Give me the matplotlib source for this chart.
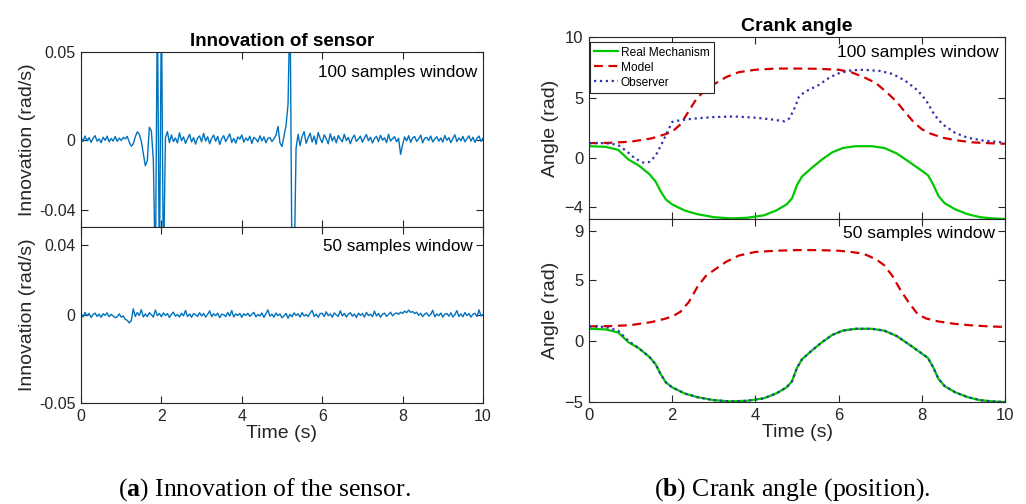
import numpy as np
import matplotlib
matplotlib.use("Agg")
import matplotlib.pyplot as plt

plt.rcParams['font.family'] = ['Liberation Sans', 'DejaVu Sans']
plt.rcParams['mathtext.fontset'] = 'custom'
plt.rcParams['mathtext.rm'] = 'Liberation Serif'
plt.rcParams['mathtext.bf'] = 'Liberation Serif:bold'

# ---- data: innovation of the sensor (values in 1e-3 rad/s, one sample every 0.05 s)
t_innov = np.arange(201) * 0.05
innov_100 = [
    1.5, -1.2, 2.0, -0.8, 1.1, -1.6, 0.7, 2.2, -1.0, 0.4, -1.8, 1.3, -0.5, 1.9, -1.4, 0.6, -0.9, 1.7, -1.1, 0.8,
    -0.6, 1.2, 0.3, 1.8, -1.5, -3.8, -2.5, 1.5, 4.4, 3.0, -1.0, -8.0, -15.0, -12.0, 7.0, 5.0, -12.0, -80, 80, -80,
    80, -80, 1.0, 4.5, -1.8, 2.6, -1.2, 0.9, -2.0, 3.8, -0.7, 1.5, -2.2, 0.5, 2.9, -1.4, 1.1, -2.6, 0.8, 2.0,
    -1.3, 3.5, -0.9, 1.6, -2.4, 0.7, 2.5, -1.0, 1.8, -2.8, 0.4, 2.2, -1.2, 1.0, 3.2, -1.7, 0.6, -2.1, 1.4, 0.2,
    2.6, -1.5, 0.9, -0.6, 1.9, -2.3, 1.2, 0.3, -1.4, 2.1, -0.8, 1.5, -1.9, 0.7, 1.1, -1.2, 0.5, 2.4, 7.5, -2.0,
    -4.0, 2.0, 8.0, 20.0, 80, -80, -80, -5.0, 3.0, -3.5, 1.8, 4.5, -2.2, 0.9, 3.6, -1.5, 2.0, -2.7, 4.0, 0.5,
    -1.8, 2.7, 0.4, -2.5, 3.3, -0.8, 1.6, -1.9, 2.3, 0.2, -1.3, 3.0, -0.6, 1.2, -2.4, 0.8, 2.5, -1.1, 0.3, 1.9,
    -1.6, 0.9, 2.8, -0.7, 1.3, -2.0, 0.6, 1.8, -1.2, 2.4, -0.4, 1.0, -1.8, 3.0, -0.9, 0.5, 1.6, -1.3, 0.7, -8.5,
    -3.0, 1.5, -0.8, 2.2, -1.6, 0.9, 1.7, -1.1, 0.4, 2.5, -1.9, 0.8, 1.2, -0.6, 2.0, -1.4, 0.3, 1.6, -1.0, 0.9,
    -1.5, 2.3, -0.5, 1.1, -1.8, 0.6, 2.7, -1.2, 0.9, -0.7, 1.8, -1.3, 0.4, 2.1, -0.9, 1.3, -1.6, 0.7, 2.0, -1.1,
    0.8]
innov_50 = [
    0.8, -1.2, 1.5, -0.4, 0.9, -1.4, 0.3, 1.1, -0.8, 0.5, -1.3, 0.7, -0.2, 1.2, -1.0, 0.4, -0.6, -1.5, -1.1, 0.6,
    -1.2, -0.5, -2.5, -3.0, -4.5, -3.2, 3.5, -0.8, 1.4, -0.3, 3.0, -1.1, 0.6, -0.9, 1.3, 0.2, -1.2, 2.8, -0.4, 0.9,
    -1.0, 1.2, -0.3, 0.8, -1.4, 0.5, 1.6, -0.7, 0.3, -1.1, 1.0, -0.5, 2.6, -0.9, 0.6, -1.3, 0.8, 0.1, -0.8, 1.3,
    -0.6, 0.9, -1.2, 0.4, 2.3, -1.0, 0.7, -0.4, 1.1, -1.5, 0.5, 0.2, -0.9, 1.4, -0.6, 2.5, -1.1, 0.6, -0.3, 0.9,
    -1.3, 0.7, -0.2, 1.0, -0.8, 0.4, 1.5, -1.0, 0.3, -0.6, 1.2, -1.4, 0.8, 2.9, -0.7, 0.5, -1.2, 1.1, -0.4, 0.6,
    -1.6, -0.5, 0.9, -1.8, 0.4, -1.0, 1.2, -0.3, 0.7, -1.2, 1.4, -0.6, 0.3, -0.9, 1.1, 2.6, -0.8, 0.5, -1.3, 0.8,
    1.0, -0.9, 1.8, -0.4, 0.6, -1.3, 1.2, 0.1, -0.8, 2.4, -0.5, 0.9, -1.1, 0.4, 1.3, -0.7, 0.6, -1.4, 1.0, -0.2,
    0.8, -1.2, 1.5, -0.3, 0.5, -1.0, 2.2, -0.6, 0.9, -1.3, 0.4, 1.1, -0.8, 0.3, 1.6, -0.5, 0.7, 1.2, 0.4, 1.6,
    0.9, 2.2, 1.3, 2.8, 1.5, 2.0, 0.8, 1.6, -0.2, 1.0, -0.9, 0.5, 1.2, -0.6, 0.3, 2.7, -1.0, 0.6, -0.4, 1.1,
    -1.2, 0.5, 0.9, -0.7, 1.3, -1.1, 0.2, 2.5, -0.8, 0.6, -1.0, 1.4, -0.3, 0.8, -1.2, 0.4, 1.0, -0.9, 2.9, -0.5,
    0.3]

# ---- data: crank angle (rad)
t_real = [0, 0.4, 0.7, 0.95, 1.2, 1.45, 1.6, 1.72, 1.85, 2.0, 2.3, 2.6, 3.0, 3.4, 3.8, 4.2, 4.5, 4.75, 4.88, 5.0,
          5.12, 5.35, 5.6, 5.85, 6.1, 6.4, 6.8, 7.1, 7.4, 7.7, 7.95, 8.15, 8.28, 8.4, 8.55, 8.8, 9.1, 9.4, 9.7, 10]
real_mech = [1.0, 0.95, 0.7, -0.1, -0.6, -1.3, -1.9, -2.7, -3.4, -3.8, -4.3, -4.6, -4.85, -4.95, -4.9, -4.7, -4.3,
             -3.8, -3.3, -2.2, -1.5, -0.8, -0.1, 0.5, 0.85, 1.0, 1.0, 0.85, 0.4, -0.3, -0.9, -1.4, -2.2, -3.1,
             -3.7, -4.2, -4.6, -4.85, -4.95, -5.0]
obs_50 = [1.2, 1.15, 0.85, 0.0, -0.6, -1.3, -1.9, -2.7, -3.4, -3.8, -4.3, -4.6, -4.85, -4.95, -4.9, -4.7, -4.3,
          -3.8, -3.3, -2.2, -1.5, -0.8, -0.1, 0.5, 0.85, 1.0, 1.0, 0.85, 0.4, -0.3, -0.9, -1.4, -2.2, -3.1,
          -3.7, -4.2, -4.6, -4.85, -4.95, -5.0]

t_model = [0, 0.5, 1.0, 1.5, 1.8, 2.0, 2.2, 2.4, 2.6, 2.8, 3.0, 3.3, 3.6, 4.0, 4.5, 5.0, 5.5, 6.0, 6.3, 6.6, 6.9,
           7.2, 7.4, 7.6, 7.8, 8.0, 8.2, 8.5, 8.8, 9.2, 9.6, 10]
model_100 = [1.25, 1.28, 1.37, 1.64, 1.95, 2.2, 2.8, 3.9, 5.0, 5.6, 6.1, 6.7, 7.1, 7.3, 7.4, 7.4, 7.38, 7.3, 7.1,
             6.7, 6.2, 5.3, 4.65, 3.8, 3.0, 2.4, 2.05, 1.7, 1.5, 1.32, 1.25, 1.2]

t_model50 = [0, 0.5, 1.0, 1.5, 1.8, 2.0, 2.2, 2.4, 2.6, 2.8, 3.0, 3.3, 3.6, 4.0, 4.5, 5.0, 5.5, 6.0, 6.3, 6.6,
             6.9, 7.1, 7.3, 7.5, 7.7, 7.9, 8.1, 8.4, 8.8, 9.2, 9.6, 10]
model_50 = [1.2, 1.22, 1.3, 1.55, 1.8, 2.0, 2.4, 3.2, 4.4, 5.3, 5.8, 6.5, 7.0, 7.3, 7.4, 7.45, 7.45, 7.4, 7.3,
            7.15, 6.7, 6.2, 5.3, 4.1, 3.1, 2.2, 1.85, 1.6, 1.4, 1.28, 1.2, 1.15]

t_obs = [0, 0.4, 0.7, 0.9, 1.1, 1.3, 1.45, 1.6, 1.75, 1.9, 2.0, 2.2, 2.6, 3.0, 3.5, 4.0, 4.4, 4.7, 4.82, 4.95,
         5.05, 5.2, 5.5, 5.8, 6.0, 6.3, 6.6, 7.0, 7.3, 7.6, 7.9, 8.1, 8.3, 8.5, 8.8, 9.1, 9.5, 10]
obs_100 = [1.25, 1.25, 1.1, 0.6, 0.0, -0.35, -0.3, 0.2, 1.2, 2.3, 3.0, 3.15, 3.3, 3.4, 3.45, 3.35, 3.2, 3.05, 3.3,
           4.2, 5.1, 5.5, 6.0, 6.7, 7.0, 7.25, 7.3, 7.2, 6.95, 6.4, 5.6, 4.8, 3.6, 2.8, 2.1, 1.7, 1.45, 1.3]

blue = '#0072BD'
green = '#00C800'
red = '#D40000'
navy = '#3333AA'
dark = '#262626'

fig = plt.figure(figsize=(10.26, 5.04), dpi=100)
W, H = 1026, 504


def make_ax(x0, x1, y0, y1, tsize):
    ax = fig.add_axes([x0 / W, 1 - y1 / H, (x1 - x0) / W, (y1 - y0) / H])
    ax.tick_params(direction='in', top=True, right=True, length=5, width=0.8,
                   labelsize=tsize, colors=dark, pad=4)
    for s in ax.spines.values():
        s.set_color(dark)
        s.set_linewidth(0.8)
    ax.set_xlim(0, 10)
    ax.set_xticks([0, 2, 4, 6, 8, 10])
    return ax


# ---- left panel
axa1 = make_ax(81, 483, 52, 227, 11.5)
axa2 = make_ax(81, 483, 227, 403, 11.5)
axa1.plot(t_innov, np.array(innov_100) * 1e-3, color=blue, lw=1.0)
axa2.plot(t_innov, np.array(innov_50) * 1e-3, color=blue, lw=1.0)
axa1.set_ylim(-0.05, 0.05)
axa1.set_yticks([-0.04, 0, 0.05])
axa1.set_yticklabels(['-0.04', '0', '0.05'])
axa1.set_xticklabels([])
axa2.set_ylim(-0.05, 0.05)
axa2.set_yticks([-0.05, 0, 0.04])
axa2.set_yticklabels(['-0.05', '0', '0.04'])
axa2.set_xticklabels(['0', '2', '4', '6', '8', '10'])
axa1.set_title('Innovation of sensor', fontsize=13.5, fontweight='bold', color='black', pad=4)
axa1.set_ylabel('Innovation (rad/s)', fontsize=14, color=dark, labelpad=2)
axa2.set_ylabel('Innovation (rad/s)', fontsize=14, color=dark, labelpad=2)
axa2.set_xlabel('Time (s)', fontsize=14, color=dark, labelpad=1)
axa1.text(0.985, 0.88, '100 samples window', transform=axa1.transAxes, ha='right', va='center',
          fontsize=12.3, color='black')
axa2.text(0.975, 0.89, '50 samples window', transform=axa2.transAxes, ha='right', va='center',
          fontsize=12.3, color='black')

# ---- right panel
axb1 = make_ax(589, 1005, 37, 219, 12)
axb2 = make_ax(589, 1005, 219, 402, 12)
axb1.plot(t_real, real_mech, color=green, lw=1.6, label='Real Mechanism')
axb1.plot(t_model, model_100, color=red, lw=1.6, dashes=(4, 2.5), label='Model')
axb1.plot(t_obs, obs_100, color=navy, lw=1.6, ls=':', label='Observer')
axb2.plot(t_real, real_mech, color=green, lw=1.6)
axb2.plot(t_model50, model_50, color=red, lw=1.6, dashes=(4, 2.5))
axb2.plot(t_real, obs_50, color=navy, lw=1.6, ls=':')
axb1.set_ylim(-5, 10)
axb1.set_yticks([-4, 0, 5, 10])
axb1.set_xticklabels([])
axb2.set_ylim(-5, 10)
axb2.set_yticks([-5, 0, 5, 9])
axb2.set_xticklabels(['0', '2', '4', '6', '8', '10'])
axb1.set_title('Crank angle', fontsize=14, fontweight='bold', color='black', pad=4)
axb1.set_ylabel('Angle (rad)', fontsize=14, color=dark, labelpad=4)
axb2.set_ylabel('Angle (rad)', fontsize=14, color=dark, labelpad=4)
axb2.set_xlabel('Time (s)', fontsize=14, color=dark, labelpad=1)
axb1.text(0.985, 0.915, '100 samples window', transform=axb1.transAxes, ha='right', va='center',
          fontsize=12.5, color='black')
axb2.text(0.975, 0.92, '50 samples window', transform=axb2.transAxes, ha='right', va='center',
          fontsize=12.5, color='black')
leg = axb1.legend(loc='upper left', bbox_to_anchor=(0.003, 0.97), fontsize=8.6, frameon=True,
                  fancybox=False, edgecolor=dark, framealpha=1, handlelength=2.0,
                  handletextpad=0.2, borderpad=0.35, labelspacing=0.25, borderaxespad=0)
leg.get_frame().set_linewidth(0.8)

# ---- captions
fig.text(264 / W, 1 - 490 / H, r'($\mathbf{a}$) Innovation of the sensor.', ha='center', va='center',
         fontsize=18.5, family='Liberation Serif', color='black')
fig.text(792 / W, 1 - 490 / H, r'($\mathbf{b}$) Crank angle (position).', ha='center', va='center',
         fontsize=18.5, family='Liberation Serif', color='black')

fig.savefig('out.png', dpi=100)
